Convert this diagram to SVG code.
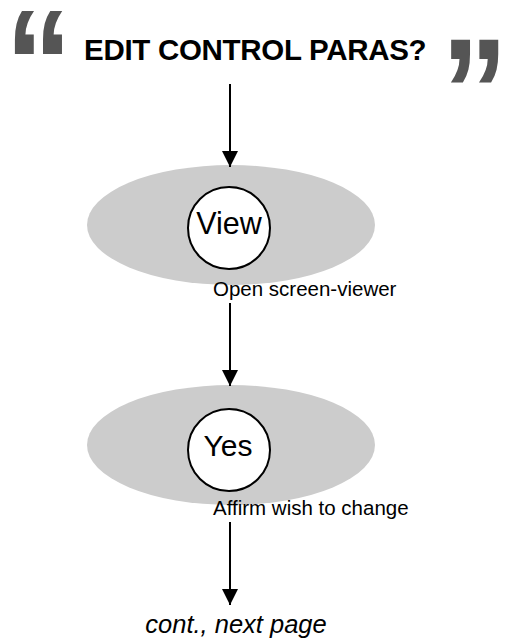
<svg xmlns="http://www.w3.org/2000/svg" width="510" height="641" viewBox="0 0 510 641">
<defs>
<style>
.q{font-family:"Liberation Sans",Arial,sans-serif;font-weight:bold;fill:#555555;font-size:120px}
.t{font-family:"Liberation Sans",Arial,sans-serif;fill:#000}
.bg{fill:#cccccc}
.c{fill:#ffffff;stroke:#000;stroke-width:2}
.e{stroke:#000;stroke-width:2;fill:none;marker-end:url(#ah)}
</style>
<marker id="ah" viewBox="0 0 16 16" refX="16" refY="8" markerWidth="16" markerHeight="16" markerUnits="userSpaceOnUse" orient="auto">
<path d="M0,0 L16,8 L0,16 Z" fill="#000"/>
</marker>
</defs>
<rect width="510" height="641" fill="#ffffff"/>
<g id="title">
<text class="q" transform="translate(5,116) scale(1.12,1.27)" letter-spacing="-18">“</text>
<text class="t" x="84" y="60" font-size="29.5" font-weight="bold" letter-spacing="-0.3">EDIT CONTROL PARAS?</text>
<text class="q" transform="translate(441,145) scale(1.12,1.27)" letter-spacing="-22">”</text>
</g>
<g id="view">
<ellipse class="bg" cx="231" cy="225" rx="144" ry="60"/>
<circle class="c" cx="229" cy="228" r="41"/>
<text class="t" x="229" y="234" font-size="30.5" text-anchor="middle">View</text>
<text class="t" x="213" y="296" font-size="20.5">Open screen-viewer</text>
</g>
<g id="yes">
<ellipse class="bg" cx="231" cy="445" rx="144" ry="60"/>
<circle class="c" cx="229" cy="450" r="41"/>
<text class="t" x="228" y="456" font-size="30" text-anchor="middle">Yes</text>
<text class="t" x="213" y="515" font-size="20.5">Affirm wish to change</text>
</g>
<g id="next">
<text class="t" x="236" y="633" font-size="25.5" font-style="italic" text-anchor="middle">cont., next page</text>
</g>
<g id="connectors">
<line class="e" x1="230" y1="84" x2="230" y2="167"/>
<line class="e" x1="230" y1="303" x2="230" y2="386"/>
<line class="e" x1="230" y1="522" x2="230" y2="605"/>
</g>
</svg>
